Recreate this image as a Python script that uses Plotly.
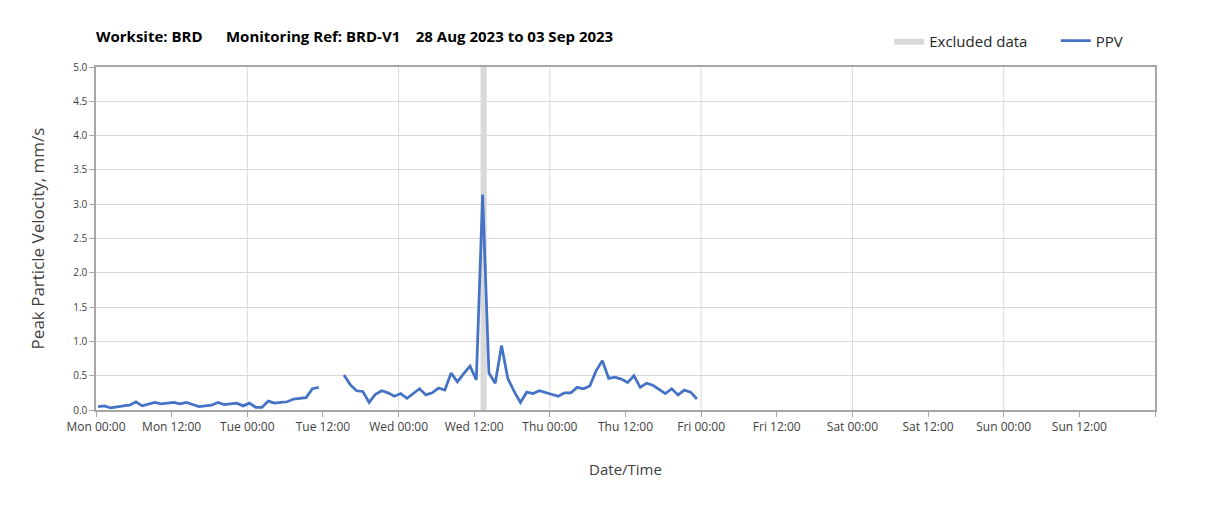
"""PPV monitoring chart - BRD-V1, week of 28 Aug 2023"""

import pandas as pd
import plotly.graph_objects as go

# hourly readings from Mon 00:20 (None = no data)
start = pd.Timestamp("2023-08-28 00:20")
ppv = [
    0.05, 0.06, 0.03, 0.05, 0.06, 0.07, 0.12, 0.06, 0.09, 0.11, 0.09, 0.10,
    0.11, 0.09, 0.11, 0.08, 0.05, 0.06, 0.07, 0.11, 0.08, 0.09, 0.10, 0.06,
    0.10, 0.04, 0.04, 0.13, 0.10, 0.11, 0.12, 0.16, 0.17, 0.18, 0.31, 0.33,
    None, None, None,
    0.51, 0.37, 0.28, 0.27, 0.11, 0.23, 0.28, 0.25, 0.20, 0.24, 0.17, 0.24,
    0.31, 0.22, 0.25, 0.32, 0.29, 0.54, 0.41, 0.53, 0.64, 0.44, 3.14, 0.54,
    0.39, 0.94, 0.46, 0.27, 0.11, 0.26, 0.24, 0.28, 0.25, 0.22, 0.20, 0.25,
    0.25, 0.33, 0.31, 0.35, 0.57, 0.72, 0.46, 0.48, 0.45, 0.40, 0.50, 0.33,
    0.39, 0.36, 0.30, 0.24, 0.31, 0.22, 0.29, 0.26, 0.16,
]
times = pd.date_range(start, periods=len(ppv), freq="h")

excluded_start = pd.Timestamp("2023-08-30 13:00")
excluded_end = pd.Timestamp("2023-08-30 14:00")

week_start = pd.Timestamp("2023-08-28 00:00")
week_end = pd.Timestamp("2023-09-04 00:00")
tick_times = list(pd.date_range(week_start, week_end, freq="12h"))
tick_labels = [t.strftime("%a %H:%M") for t in tick_times[:-1]] + [""]
day_lines = pd.date_range(week_start, week_end, freq="D")[1:-1]

Y_MAX = 5.0
FONT = "'Open Sans', Lato, sans-serif"
GRID = "#d9d9d9"
AXIS = "#a6a6a6"
NB = "\u00a0"

fig = go.Figure()

# excluded data band
fig.add_trace(go.Scatter(
    x=[excluded_start, excluded_start, excluded_end, excluded_end, excluded_start],
    y=[0, Y_MAX, Y_MAX, 0, 0],
    mode="lines", fill="toself", fillcolor="#d9d9d9",
    line=dict(width=0, color="#d9d9d9"),
    name="Excluded data" + NB * 6, hoverinfo="skip",
))

# PPV line
fig.add_trace(go.Scatter(
    x=times, y=ppv, mode="lines", name="PPV",
    line=dict(color="#4472c4", width=2.75),
    connectgaps=False,
))

for d in day_lines:
    fig.add_vline(x=d, line_color=GRID, line_width=1, layer="below")

title_text = ("<b>Worksite: BRD" + NB * 6 + "Monitoring Ref: BRD-V1" + NB * 4
              + "28 Aug 2023 to 03 Sep 2023</b>")

fig.update_layout(
    width=1212, height=506,
    margin=dict(l=88, r=65, t=59, b=104),
    paper_bgcolor="white", plot_bgcolor="white",
    font=dict(family=FONT, color="#404040"),
    title=dict(text=title_text, x=0, xref="paper", xanchor="left",
               y=1 - 29 / 506, yanchor="middle",
               font=dict(family=FONT, size=15, color="#000000")),
    showlegend=True,
    legend=dict(orientation="h", x=0.749, xanchor="left", y=1.076, yanchor="middle",
                font=dict(family=FONT, size=15, color="#262626"),
                bgcolor="rgba(0,0,0,0)", itemwidth=30),
)

fig.update_xaxes(
    range=[week_start, week_end],
    tickvals=tick_times, ticktext=tick_labels,
    tickfont=dict(size=12, color="#404040"),
    showgrid=False,
    showline=True, linecolor=AXIS, linewidth=1.5, mirror=True,
    ticks="outside", ticklen=5, tickcolor=AXIS,
    title=dict(text="Date/Time", standoff=30,
               font=dict(family=FONT, size=15, color="#404040")),
)
fig.update_yaxes(
    range=[0, Y_MAX], dtick=0.5, tickformat=".1f",
    tickfont=dict(size=10, color="#404040"),
    showgrid=True, gridcolor=GRID, gridwidth=1,
    zeroline=False,
    showline=True, linecolor=AXIS, linewidth=1.5, mirror=True,
    ticks="outside", ticklen=5, tickcolor=AXIS,
    title=dict(text="Peak Particle Velocity, mm/s", standoff=24,
               font=dict(family=FONT, size=17, color="#404040")),
)

fig.write_html("out.html")
